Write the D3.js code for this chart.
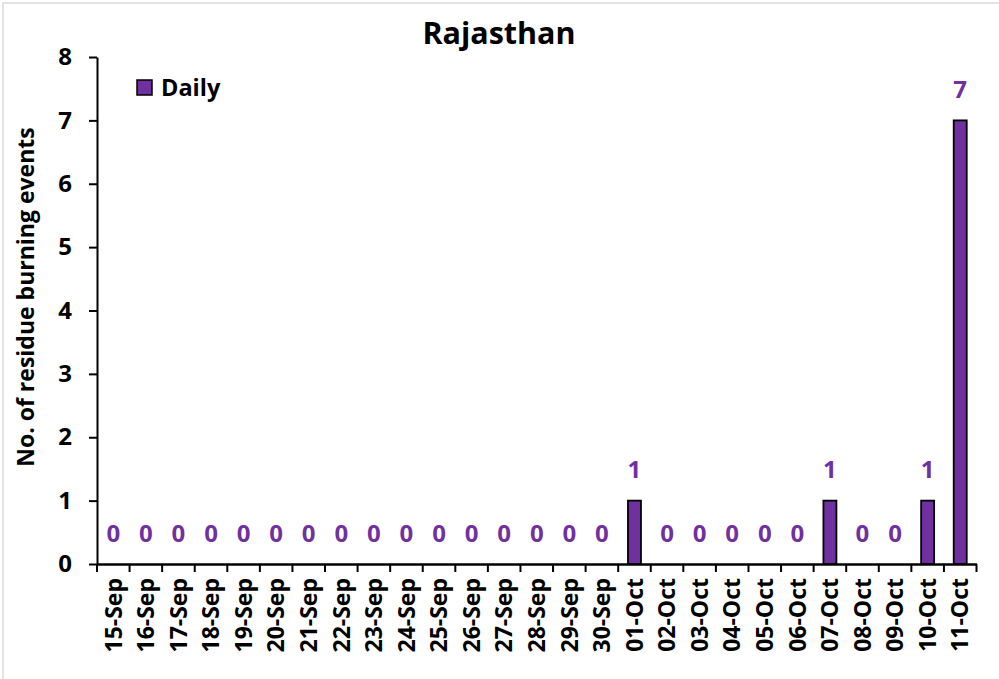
<!DOCTYPE html>
<html>
<head>
<meta charset="utf-8">
<style>
  body { margin: 0; background: #fff; }
  svg text { font-family: "Open Sans", sans-serif; font-weight: bold; }
</style>
<script src="https://d3js.org/d3.v7.min.js"></script>
</head>
<body>
<svg width="999" height="679"></svg>
<script>
var dates = ["15-Sep","16-Sep","17-Sep","18-Sep","19-Sep","20-Sep","21-Sep","22-Sep","23-Sep",
  "24-Sep","25-Sep","26-Sep","27-Sep","28-Sep","29-Sep","30-Sep","01-Oct","02-Oct","03-Oct",
  "04-Oct","05-Oct","06-Oct","07-Oct","08-Oct","09-Oct","10-Oct","11-Oct"];
var daily = [0,0,0,0,0,0,0,0,0,0,0,0,0,0,0,0,1,0,0,0,0,0,1,0,0,1,7];
var yTicks = [0,1,2,3,4,5,6,7,8];

var svg = d3.select("svg");
var purple = "#7030a0";

svg.append("rect")
  .attr("x", 3).attr("y", 3).attr("width", 1000).attr("height", 690)
  .attr("fill", "none").attr("stroke", "#d9d9d9").attr("stroke-width", 1.5);

var plotL = 97, plotR = 976.5, plotT = 57, plotB = 564;

var x = d3.scaleBand().domain(dates).range([plotL, plotR]).paddingInner(0).paddingOuter(0);
var y = d3.scaleLinear().domain([0, 8]).range([plotB, plotT]);

var data = dates.map(function(d, i) { return {date: d, value: daily[i]}; });

// bars
var barW = 13;
svg.append("g").selectAll("rect")
  .data(data.filter(function(d) { return d.value > 0; }))
  .enter().append("rect")
  .attr("x", function(d) { return x(d.date) + x.bandwidth() / 2 - barW / 2; })
  .attr("y", function(d) { return y(d.value); })
  .attr("width", barW)
  .attr("height", function(d) { return y(0) - y(d.value); })
  .attr("fill", purple)
  .attr("stroke", "#000")
  .attr("stroke-width", 1.8);

// y axis
var yAxis = svg.append("g")
  .attr("transform", "translate(" + plotL + ",0)")
  .call(d3.axisLeft(y).tickValues(yTicks).tickSize(8).tickSizeOuter(0).tickFormat(d3.format("d")));
yAxis.select(".domain").attr("stroke", "#000").attr("stroke-width", 2);
yAxis.selectAll(".tick line").attr("stroke", "#000").attr("stroke-width", 2);
yAxis.selectAll(".tick text").attr("x", -25).attr("font-size", 24).attr("fill", "#000");

// x axis
var xAxis = svg.append("g")
  .attr("transform", "translate(0," + plotB + ")")
  .call(d3.axisBottom(x).tickSize(0).tickSizeOuter(0));
xAxis.select(".domain").attr("stroke", "#000").attr("stroke-width", 2.5);
xAxis.selectAll(".tick text")
  .attr("transform", "rotate(-90)")
  .attr("x", -14).attr("y", 0).attr("dy", "0.36em")
  .attr("text-anchor", "end")
  .attr("font-size", 23).attr("fill", "#000");

// x tick marks at band boundaries
svg.append("g").selectAll("line")
  .data(dates.concat(["end"]))
  .enter().append("line")
  .attr("x1", function(d, i) { return plotL + i * x.bandwidth(); })
  .attr("x2", function(d, i) { return plotL + i * x.bandwidth(); })
  .attr("y1", plotB).attr("y2", plotB + 8)
  .attr("stroke", "#000").attr("stroke-width", 2);

// value labels
svg.append("g").selectAll("text")
  .data(data)
  .enter().append("text")
  .attr("x", function(d) { return x(d.date) + x.bandwidth() / 2; })
  .attr("y", function(d) { return y(d.value) - 31; })
  .attr("dy", "0.36em")
  .attr("text-anchor", "middle")
  .attr("font-size", 24)
  .attr("fill", purple)
  .text(function(d) { return d.value; });

// title
svg.append("text")
  .attr("x", 499).attr("y", 33).attr("dy", "0.36em")
  .attr("text-anchor", "middle").attr("font-size", 30.5).attr("fill", "#000")
  .text("Rajasthan");

// y axis title
svg.append("text")
  .attr("transform", "translate(26,297) rotate(-90)")
  .attr("dy", "0.36em")
  .attr("text-anchor", "middle").attr("font-size", 23).attr("fill", "#000")
  .text("No. of residue burning events");

// legend
svg.append("rect")
  .attr("x", 137).attr("y", 80).attr("width", 15).attr("height", 15)
  .attr("fill", purple).attr("stroke", "#000").attr("stroke-width", 1.5);
svg.append("text")
  .attr("x", 161).attr("y", 88).attr("dy", "0.36em")
  .attr("font-size", 23.5).attr("fill", "#000")
  .text("Daily");
</script>
</body>
</html>
